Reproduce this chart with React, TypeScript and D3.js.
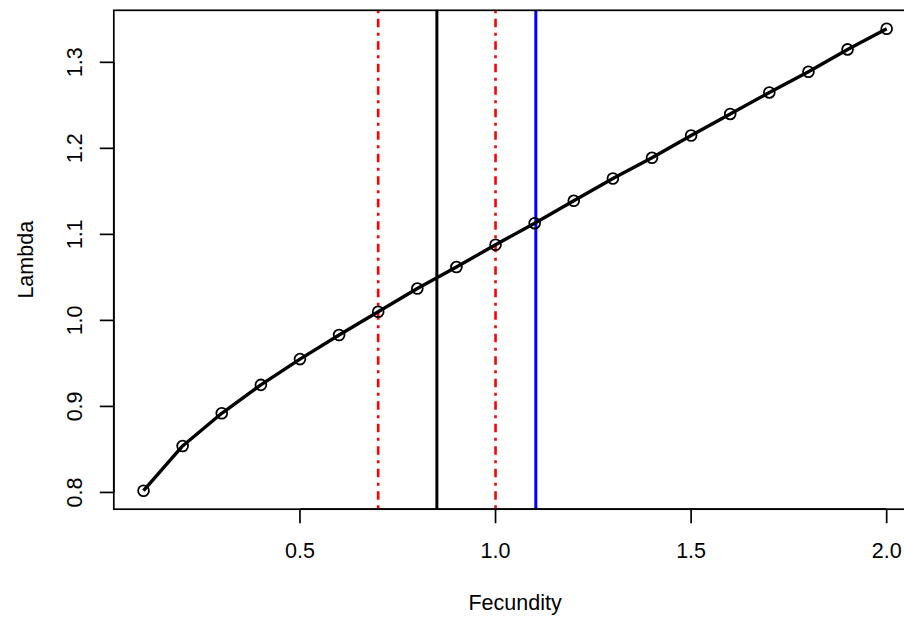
import React from "react";
import * as d3 from "d3";

const fecundity = [0.1, 0.2, 0.3, 0.4, 0.5, 0.6, 0.7, 0.8, 0.9, 1.0, 1.1, 1.2, 1.3, 1.4, 1.5, 1.6, 1.7, 1.8, 1.9, 2.0];
const lambda = [0.802, 0.854, 0.892, 0.925, 0.955, 0.983, 1.010, 1.037, 1.062, 1.088, 1.113, 1.139, 1.165, 1.189, 1.215, 1.240, 1.265, 1.289, 1.315, 1.339];
const xTicks = [0.5, 1.0, 1.5, 2.0];
const yTicks = [0.8, 0.9, 1.0, 1.1, 1.2, 1.3];
const redLines = [0.7, 1.0];
const blackLine = 0.85;
const blueLine = 1.103;

const W = 904;
const H = 617;
const FONT = "'Liberation Sans', Arial, sans-serif";
const FS = 21.5;

export default function App() {
  const xDom = d3.extent(fecundity) as [number, number];
  const yDom = d3.extent(lambda) as [number, number];
  const xPad = (xDom[1] - xDom[0]) * 0.04;
  const yPad = (yDom[1] - yDom[0]) * 0.04;
  const x = d3.scaleLinear().domain([xDom[0] - xPad, xDom[1] + xPad]).range([113.8, 916.4]);
  const y = d3.scaleLinear().domain([yDom[0] - yPad, yDom[1] + yPad]).range([509.2, 10.3]);
  const [x0, x1] = x.range();
  const [y0, y1] = y.range();
  const pts = fecundity.map((f, i) => [x(f), y(lambda[i])] as [number, number]);
  const line = d3.line()(pts) || "";
  const tick = 14;

  return (
    <svg width={W} height={H} style={{ position: "absolute", left: 0, top: 0, background: "#fff" }}>
      <defs>
        <clipPath id="plotclip">
          <rect x={x0} y={y1} width={x1 - x0} height={y0 - y1} />
        </clipPath>
      </defs>
      <rect x={0} y={0} width={W} height={H} fill="#fff" />
      <g clipPath="url(#plotclip)">
        {redLines.map((v) => (
          <line key={v} x1={x(v)} x2={x(v)} y1={y1} y2={y0} stroke="#ff0000" strokeWidth={2.6} strokeDasharray="3 5.5 8.5 5.5" />
        ))}
        <line x1={x(blackLine)} x2={x(blackLine)} y1={y1} y2={y0} stroke="#000" strokeWidth={3} />
        <line x1={x(blueLine)} x2={x(blueLine)} y1={y1} y2={y0} stroke="#0000ff" strokeWidth={3} />
      </g>
      <path d={line} fill="none" stroke="#000" strokeWidth={3.4} strokeLinejoin="round" />
      {pts.map(([px, py], i) => (
        <circle key={i} cx={px} cy={py} r={5.4} fill="none" stroke="#000" strokeWidth={1.8} />
      ))}
      <rect x={x0} y={y1} width={x1 - x0} height={y0 - y1} fill="none" stroke="#000" strokeWidth={1.7} />
      {/* x axis */}
      <line x1={x(xTicks[0])} x2={x(xTicks[xTicks.length - 1])} y1={y0} y2={y0} stroke="#000" strokeWidth={1.7} />
      {xTicks.map((t) => (
        <g key={t}>
          <line x1={x(t)} x2={x(t)} y1={y0} y2={y0 + tick} stroke="#000" strokeWidth={1.7} />
          <text x={x(t)} y={558} textAnchor="middle" fontFamily={FONT} fontSize={FS} fill="#000">
            {t.toFixed(1)}
          </text>
        </g>
      ))}
      {/* y axis */}
      <line x1={x0} x2={x0} y1={y(yTicks[0])} y2={y(yTicks[yTicks.length - 1])} stroke="#000" strokeWidth={1.7} />
      {yTicks.map((t) => (
        <g key={t}>
          <line x1={x0} x2={x0 - tick} y1={y(t)} y2={y(t)} stroke="#000" strokeWidth={1.7} />
          <text transform={`translate(82,${y(t)}) rotate(-90)`} textAnchor="middle" fontFamily={FONT} fontSize={FS} fill="#000">
            {t.toFixed(1)}
          </text>
        </g>
      ))}
      <text x={(x0 + x1) / 2} y={610} textAnchor="middle" fontFamily={FONT} fontSize={FS} fill="#000">
        Fecundity
      </text>
      <text transform={`translate(33,${(y0 + y1) / 2}) rotate(-90)`} textAnchor="middle" fontFamily={FONT} fontSize={FS} fill="#000">
        Lambda
      </text>
    </svg>
  );
}
